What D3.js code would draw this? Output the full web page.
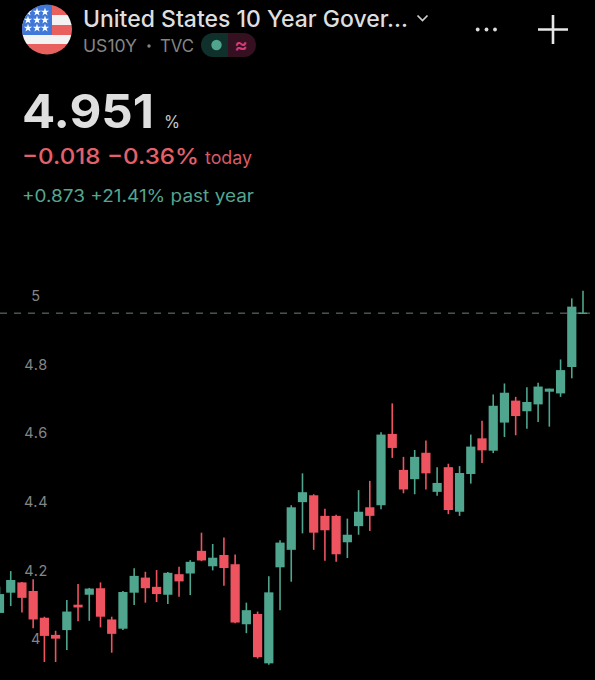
<!DOCTYPE html>
<html><head><meta charset="utf-8">
<script src="https://cdn.jsdelivr.net/npm/d3@7/dist/d3.min.js"></script>
<style>html,body{margin:0;padding:0;background:#000}svg{display:block}text{font-family:Inter,"Noto Sans",sans-serif}</style>
</head><body><svg id="c" width="595" height="680"></svg>
<script>
const title = "United States 10 Year Gover...";
const tickValues = [4, 4.2, 4.4, 4.6, 4.8, 5];
const lastPrice = 4.95;
const opens  = [4.076,4.135,4.165,4.140,4.062,4.012,4.026,4.100,4.129,4.148,4.057,4.030,4.135,4.179,4.152,4.129,4.189,4.191,4.257,4.212,4.245,4.218,4.043,4.073,3.929,4.209,4.260,4.399,4.419,4.359,4.359,4.282,4.329,4.384,4.390,4.598,4.493,4.466,4.543,4.429,4.501,4.371,4.481,4.585,4.549,4.631,4.695,4.664,4.684,4.721,4.716,4.793,4.949];
const highs  = [4.152,4.198,4.166,4.174,4.065,4.024,4.114,4.160,4.149,4.165,4.065,4.140,4.206,4.196,4.201,4.195,4.211,4.230,4.310,4.277,4.296,4.246,4.106,4.080,4.183,4.288,4.390,4.483,4.422,4.380,4.362,4.351,4.434,4.461,4.603,4.687,4.531,4.551,4.579,4.501,4.511,4.504,4.596,4.636,4.713,4.745,4.706,4.734,4.747,4.730,4.815,4.993,5.015];
const lows   = [4.076,4.096,4.077,4.031,3.933,3.933,3.968,4.052,4.053,4.034,3.960,4.026,4.099,4.106,4.108,4.102,4.123,4.128,4.227,4.200,4.155,4.046,4.017,3.943,3.925,4.084,4.167,4.308,4.260,4.228,4.225,4.236,4.304,4.315,4.378,4.528,4.425,4.422,4.436,4.418,4.364,4.359,4.453,4.513,4.542,4.589,4.594,4.613,4.633,4.619,4.706,4.760,4.949];
const closes = [4.131,4.172,4.120,4.057,4.009,4.001,4.080,4.092,4.147,4.065,4.015,4.137,4.184,4.148,4.131,4.193,4.168,4.225,4.229,4.237,4.207,4.048,4.084,3.947,4.136,4.281,4.384,4.428,4.310,4.317,4.247,4.304,4.371,4.359,4.596,4.557,4.436,4.531,4.483,4.455,4.376,4.484,4.561,4.550,4.680,4.718,4.650,4.691,4.736,4.730,4.784,4.969,4.952];
const GREEN = "#4fa58e", RED = "#ee5360";

const svg = d3.select("#c");
const x = d3.scaleLinear().domain([0, opens.length - 1]).range([-0.5, 583]);
const y = d3.scaleLinear().domain([4, 5]).range([639, 296]);
const bodyW = 9.2;

// Header
const defs = svg.append("defs");
defs.append("clipPath").attr("id","flag").append("circle").attr("cx",47).attr("cy",29.5).attr("r",25);
const flag = svg.append("g").attr("clip-path","url(#flag)");
[[5,10,"#e8615f"],[15,10,"#f3f3f3"],[25,10,"#e8615f"],[35,9,"#f3f3f3"],[44,11,"#e8615f"]].forEach(s =>
  flag.append("rect").attr("x",20).attr("y",s[0]).attr("width",55).attr("height",s[1]).attr("fill",s[2]));
flag.append("rect").attr("x",20).attr("y",4).attr("width",32).attr("height",31).attr("fill","#3f78d8");
const star = d3.symbol().type(d3.symbolStar).size(22);
[12,20,28].forEach(sy => [28,37,45].forEach(sx =>
  flag.append("path").attr("d",star()).attr("transform",`translate(${sx},${sy})`).attr("fill","#fff")));

const txt = (t,px,py,size,fill,weight,len) => {
  const e = svg.append("text").attr("x",px).attr("y",py).attr("font-size",size).attr("fill",fill).attr("font-weight",weight||400).text(t);
  if (len) e.attr("textLength",len).attr("lengthAdjust","spacingAndGlyphs");
  return e;
};
txt(title,83,27,23,"#dedede",500,325);
svg.append("path").attr("d","M417.5 15.5L422.5 20.5L427.5 15.5").attr("fill","none").attr("stroke","#cfcfcf").attr("stroke-width",1.7);
[477.7,486.5,495].forEach(cx => svg.append("circle").attr("cx",cx).attr("cy",29.5).attr("r",1.9).attr("fill","#dcdcdc"));
svg.append("path").attr("d","M538 29.5H568M553 15V44").attr("stroke","#e6e6e6").attr("stroke-width",2.6);
txt("US10Y",83,52,17,"#858585",400,54);
svg.append("circle").attr("cx",149).attr("cy",46).attr("r",1.7).attr("fill","#858585");
txt("TVC",160,52,17,"#858585",400,34);
// status pill
defs.append("clipPath").attr("id","pill").append("rect").attr("x",201).attr("y",33).attr("width",55).attr("height",24).attr("rx",12);
const pill = svg.append("g").attr("clip-path","url(#pill)");
pill.append("rect").attr("x",201).attr("y",33).attr("width",27).attr("height",24).attr("fill","#10302c");
pill.append("rect").attr("x",228).attr("y",33).attr("width",28).attr("height",24).attr("fill","#351020");
svg.append("circle").attr("cx",216.5).attr("cy",45).attr("r",5.2).attr("fill",GREEN);
svg.append("text").attr("x",241).attr("y",52).attr("text-anchor","middle").attr("font-size",20).attr("font-weight",600).attr("fill","#d83a78").text("≈");

txt("4.951",22,128,47,"#dfdfdf",700,132);
txt("%",164,128,17,"#c8c8c8",400,16);
txt("−0.018 −0.36%",22,164,22,"#e4606a",500,177);
txt("today",205,164,18,"#d65a64",400,47);
txt("+0.873 +21.41% past year",22,202,17,"#55a58f",400,232);

// Axis labels, under the candles
const axis = d3.axisRight(y).tickValues(tickValues).tickSize(0).tickPadding(0).tickFormat(d => d3.format("~g")(d));
const ga = svg.append("g").attr("transform","translate(36,0)").call(axis);
ga.select(".domain").remove();
ga.selectAll("text").attr("text-anchor","middle").attr("font-size",14.5).attr("letter-spacing",0.6).attr("fill","#858585").attr("font-family","Inter,'Noto Sans',sans-serif");

// Last price line
svg.append("line").attr("x1",0).attr("x2",590).attr("y1",y(lastPrice)).attr("y2",y(lastPrice))
  .attr("stroke","#6f7f7a").attr("stroke-width",1).attr("stroke-dasharray","7 7");

// Candles
const idx = d3.range(opens.length);
const col = i => closes[i] >= opens[i] ? GREEN : RED;
const g = svg.append("g");
g.selectAll("line.w").data(idx).join("line").attr("class","w")
  .attr("x1",x).attr("x2",x).attr("y1",i => y(highs[i])).attr("y2",i => y(lows[i]))
  .attr("stroke",col).attr("stroke-width",1.6);
g.selectAll("rect.b").data(idx).join("rect").attr("class","b")
  .attr("x",i => x(i) - bodyW/2).attr("width",bodyW)
  .attr("y",i => y(Math.max(opens[i],closes[i])))
  .attr("height",i => Math.max(1.5, Math.abs(y(opens[i]) - y(closes[i]))))
  .attr("fill",col);
</script></body></html>
